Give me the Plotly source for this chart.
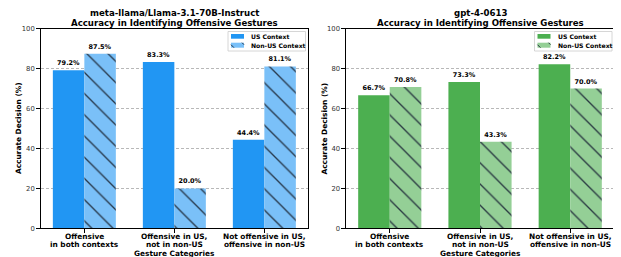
import plotly.graph_objects as go

categories = ["Offensive\nin both contexts", "Offensive in US,\nnot in non-US", "Not offensive in US,\noffensive in non-US"]
llama_us = [79.2, 83.3, 44.4]
llama_nonus = [87.5, 20.0, 81.1]
gpt_us = [66.7, 73.3, 82.2]
gpt_nonus = [70.8, 43.3, 70.0]
titles = ["meta-llama/Llama-3.1-70B-Instruct", "gpt-4-0613"]
subtitle = "Accuracy in Identifying Offensive Gestures"
series_names = ["US Context", "Non-US Context"]
yticks = [0, 20, 40, 60, 80, 100]

FONT = "DejaVu Sans"
OX, OY = 8, 8          # page body margin offset
W, H = 621 - OX, 257 - OY
HATCH = "#1e2a38"
fig = go.Figure()

def px(x):
    return (x - OX) / W

def py(y):
    return 1 - (y - OY) / H

panels = [
    (llama_us, llama_nonus, "#2196F3", "#7AC0F8", "x", "y"),
    (gpt_us, gpt_nonus, "#4CAF50", "#94CF96", "x2", "y2"),
]
for us, nonus, c1, c2, xa, ya in panels:
    fig.add_trace(go.Bar(
        x=categories, y=us, name=series_names[0], xaxis=xa, yaxis=ya, showlegend=False,
        marker=dict(color=c1, line=dict(width=0)),
        texttemplate="%{y:.1f}%", textposition="outside",
        textfont=dict(family=FONT, size=6.5, color="black", weight="bold"),
        cliponaxis=False, offsetgroup="a",
    ))
    fig.add_trace(go.Bar(
        x=categories, y=nonus, name=series_names[1], xaxis=xa, yaxis=ya, showlegend=False,
        marker=dict(color=c2, line=dict(width=0),
                    pattern=dict(shape="\\", size=15, solidity=0.09, fgcolor=HATCH, fgopacity=0.9)),
        texttemplate="%{y:.1f}%", textposition="outside",
        textfont=dict(family=FONT, size=6.5, color="black", weight="bold"),
        cliponaxis=False, offsetgroup="b",
    ))

xd = [[px(40.7), px(308)], [px(346), px(614)]]
yd = [py(228.3), py(28.7)]

common_x = dict(range=[-0.485, 2.485], showline=True, linecolor="black", linewidth=1.2, mirror=True,
                ticks="outside", ticklen=3.5, tickwidth=0.8, tickcolor="black", automargin=False,
                showticklabels=False, showgrid=False)
common_y = dict(range=[0, 100], tickvals=yticks, showline=True, linecolor="black", linewidth=1.2, mirror=True,
                ticks="outside", ticklen=3.5, tickwidth=0.8, tickcolor="black", automargin=False,
                tickfont=dict(family=FONT, size=6.8, color="#333"),
                showgrid=True, gridcolor="#b8b8b8", griddash="3px,2px", gridwidth=0.6,
                layer="above traces", zeroline=False)

fig.update_layout(
    width=W, height=H, margin=dict(l=0, r=0, t=0, b=0, autoexpand=False),
    plot_bgcolor="white", paper_bgcolor="white",
    barmode="group", bargap=0.3, bargroupgap=0,
    xaxis=dict(domain=xd[0], anchor="y", **common_x),
    yaxis=dict(domain=yd, anchor="x", **common_y),
    xaxis2=dict(domain=xd[1], anchor="y2", **common_x),
    yaxis2=dict(domain=yd, anchor="x2", **common_y),
    showlegend=False,
)

# category tick labels (one annotation per line for tight line spacing)
for xref in ["x", "x2"]:
    for cat in categories:
        for i, line in enumerate(cat.split("\n")):
            fig.add_annotation(x=cat, y=py(236.2 + 8.2 * i), xref=xref, yref="paper", text=line,
                               showarrow=False, font=dict(family=FONT, size=7.4, color="black", weight="bold"),
                               xanchor="center", yanchor="middle")

centers = [(40.7 + 308) / 2, (346 + 614) / 2]
for cx, t in zip(centers, titles):
    fig.add_annotation(x=px(cx), y=py(12.8), xref="paper", yref="paper", text=t, showarrow=False,
                       font=dict(family=FONT, size=8.6, color="black", weight="bold"), xanchor="center", yanchor="middle")
    fig.add_annotation(x=px(cx), y=py(22.8), xref="paper", yref="paper", text=subtitle, showarrow=False,
                       font=dict(family=FONT, size=8.6, color="black", weight="bold"), xanchor="center", yanchor="middle")
    fig.add_annotation(x=px(cx), y=py(253.5), xref="paper", yref="paper", text="Gesture Categories",
                       showarrow=False, font=dict(family=FONT, size=7.4, color="black", weight="bold"),
                       xanchor="center", yanchor="middle")

for ax in [18.5, 324]:
    fig.add_annotation(x=px(ax), y=py(128.5), xref="paper", yref="paper", text="Accurate Decision (%)",
                       textangle=-90, showarrow=False,
                       font=dict(family=FONT, size=7.4, color="black", weight="bold"),
                       xanchor="center", yanchor="middle")

# legends (drawn as decoration, one per panel)
legend_boxes = [(228, "#2196F3", "#7AC0F8"), (534.5, "#4CAF50", "#94CF96")]
for lx, c1, c2 in legend_boxes:
    fig.add_shape(type="rect", xref="paper", yref="paper", x0=px(lx), x1=px(lx + 77.5), y0=py(51), y1=py(31.5),
                  line=dict(color="#cccccc", width=0.8), fillcolor="rgba(255,255,255,0.9)", layer="above")
    sx0, sx1 = lx + 3, lx + 16
    fig.add_shape(type="rect", xref="paper", yref="paper", x0=px(sx0), x1=px(sx1), y0=py(38.7), y1=py(34),
                  line=dict(width=0), fillcolor=c1, layer="above")
    fig.add_shape(type="rect", xref="paper", yref="paper", x0=px(sx0), x1=px(sx1), y0=py(47.7), y1=py(42.7),
                  line=dict(width=0), fillcolor=c2, layer="above")
    for hx in [sx0 - 2, sx0 + 11]:
        xa0, ya0, xa1, ya1 = hx, 42.7, hx + 5, 47.7
        if xa0 < sx0:
            ya0 += sx0 - xa0
            xa0 = sx0
        if xa1 > sx1:
            ya1 -= xa1 - sx1
            xa1 = sx1
        fig.add_shape(type="line", xref="paper", yref="paper", x0=px(xa0), y0=py(ya0), x1=px(xa1), y1=py(ya1),
                      line=dict(color=HATCH, width=0.9), layer="above")
    for name, yy in zip(series_names, [36.4, 45.2]):
        fig.add_annotation(x=px(sx1 + 5), y=py(yy), xref="paper", yref="paper", text=name, showarrow=False,
                           font=dict(family=FONT, size=6.1, color="black", weight="bold"),
                           xanchor="left", yanchor="middle")

fig.write_html("out.html")
